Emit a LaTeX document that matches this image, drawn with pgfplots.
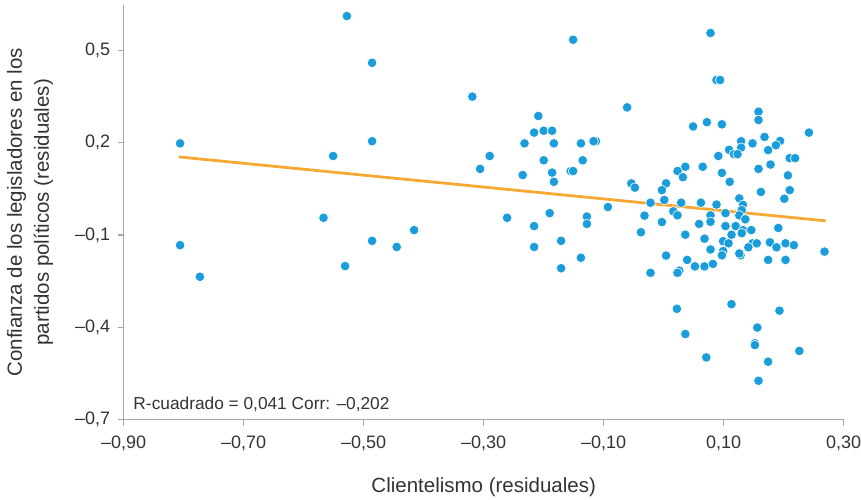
\documentclass[border=0pt]{standalone}
\usepackage{fontspec}
\setmainfont{Liberation Sans}
\usepackage{pgfplots}
\usepackage{pgfplotstable}
\pgfplotsset{compat=1.18}

\definecolor{puntos}{HTML}{1B9DDB}
\definecolor{recta}{HTML}{F7A833}
\definecolor{eje}{HTML}{A6A6A6}
\definecolor{texto}{HTML}{333333}

% residuales: clientelismo (x), confianza en partidos (y)
\pgfplotstableread{
x y
-0.528 0.612
-0.486 0.460
-0.319 0.350
-0.806 0.198
-0.486 0.205
-0.551 0.157
-0.290 0.157
-0.306 0.115
-0.567 -0.044
-0.416 -0.084
-0.806 -0.133
-0.486 -0.119
-0.445 -0.139
-0.531 -0.201
-0.773 -0.236
-0.151 0.535
-0.061 0.315
-0.209 0.287
-0.216 0.233
-0.200 0.239
-0.186 0.239
-0.232 0.198
-0.183 0.198
-0.138 0.198
-0.113 0.205
-0.117 0.205
-0.200 0.143
-0.135 0.143
-0.235 0.095
-0.186 0.103
-0.183 0.073
-0.155 0.108
-0.151 0.108
-0.261 -0.044
-0.216 -0.071
-0.190 -0.029
-0.216 -0.139
-0.171 -0.119
-0.171 -0.208
-0.138 -0.174
-0.128 -0.040
-0.128 -0.064
-0.093 -0.009
0.078 0.557
0.088 0.404
0.094 0.404
0.049 0.253
0.072 0.267
0.097 0.260
0.158 0.301
0.158 0.274
0.242 0.233
0.168 0.219
0.194 0.206
0.187 0.192
0.148 0.198
0.129 0.205
0.129 0.184
0.109 0.177
0.117 0.163
0.123 0.163
0.174 0.176
0.091 0.157
0.210 0.150
0.219 0.150
0.065 0.122
0.036 0.122
0.023 0.108
0.032 0.088
0.097 0.102
0.110 0.073
0.158 0.115
0.178 0.129
0.207 0.094
0.210 0.046
0.162 0.040
-0.054 0.068
-0.048 0.054
0.004 0.068
-0.003 0.046
0.201 0.018
-0.022 0.005
0.001 0.014
0.029 0.005
0.062 0.005
0.126 0.019
0.132 -0.002
0.088 -0.001
-0.032 -0.037
0.016 -0.023
0.023 -0.036
0.078 -0.036
0.103 -0.029
0.130 -0.019
0.126 -0.036
0.136 -0.049
-0.003 -0.058
0.059 -0.064
0.078 -0.057
0.103 -0.071
0.120 -0.071
0.132 -0.084
0.146 -0.084
0.130 -0.094
0.113 -0.099
0.191 -0.077
-0.038 -0.091
0.036 -0.099
0.068 -0.112
0.099 -0.120
0.108 -0.127
0.099 -0.152
0.078 -0.147
0.097 -0.166
0.148 -0.127
0.155 -0.127
0.141 -0.140
0.177 -0.124
0.188 -0.140
0.203 -0.127
0.217 -0.133
0.128 -0.166
0.126 -0.160
0.174 -0.181
0.203 -0.181
0.268 -0.154
0.004 -0.167
0.039 -0.181
0.052 -0.202
0.068 -0.202
0.082 -0.194
0.026 -0.216
0.023 -0.223
-0.022 -0.223
0.022 -0.340
0.113 -0.325
0.193 -0.346
0.036 -0.422
0.156 -0.401
0.152 -0.452
0.152 -0.458
0.226 -0.477
0.071 -0.498
0.174 -0.512
0.158 -0.574
}\datos

\begin{document}
\begin{tikzpicture}
\begin{axis}[
    at={(0,0)}, anchor=south west,
    scale only axis,
    width=720pt, height=414.5pt,
    xmin=-0.9, xmax=0.3,
    ymin=-0.7, ymax=0.648,
    axis x line*=bottom, axis y line*=left,
    axis line style={eje, line width=1.4pt},
    xtick={-0.9,-0.7,-0.5,-0.3,-0.1,0.1,0.3},
    xticklabels={{–0,90},{–0,70},{–0,50},{–0,30},{–0,10},{0,10},{0,30}},
    ytick={-0.7,-0.4,-0.1,0.2,0.5},
    yticklabels={{–0,7},{–0,4},{–0,1},{0,2},{0,5}},
    tick align=outside,
    major tick length=6pt,
    tick style={eje, line width=1.2pt},
    ticklabel style={font=\fontsize{18}{21}\selectfont, text=texto},
    xticklabel style={yshift=-7pt},
    yticklabel style={xshift=-4pt},
    xlabel={Clientelismo (residuales)},
    ylabel={Confianza de los legisladores en los\\partidos políticos (residuales)},
    every axis x label/.style={at={(axis description cs:0.5,0)}, anchor=center, yshift=-67.5pt},
    every axis y label/.style={at={(axis description cs:0,0.5)}, xshift=-93.7pt, rotate=90, anchor=center, align=center},
    label style={font=\fontsize{20.5}{27}\selectfont, text=texto},
]
\addplot[only marks, mark=*, mark size=4.8pt,
    mark options={fill=puntos, draw=white, line width=0.6pt}] table {\datos};
\addplot[recta, line width=2.8pt] coordinates {(-0.808,0.154) (0.270,-0.054)};
\node[anchor=base west, inner sep=0pt, font=\fontsize{17.3}{20}\selectfont, text=texto]
    at (axis cs:-0.9,-0.7) [xshift=9.6pt, yshift=10.5pt] {R-cuadrado = 0,041 Corr: –0,202};
\end{axis}
\pgfresetboundingbox
\path (-123.7pt,-79.5pt) rectangle (737.3pt,419.5pt);
\end{tikzpicture}
\end{document}
